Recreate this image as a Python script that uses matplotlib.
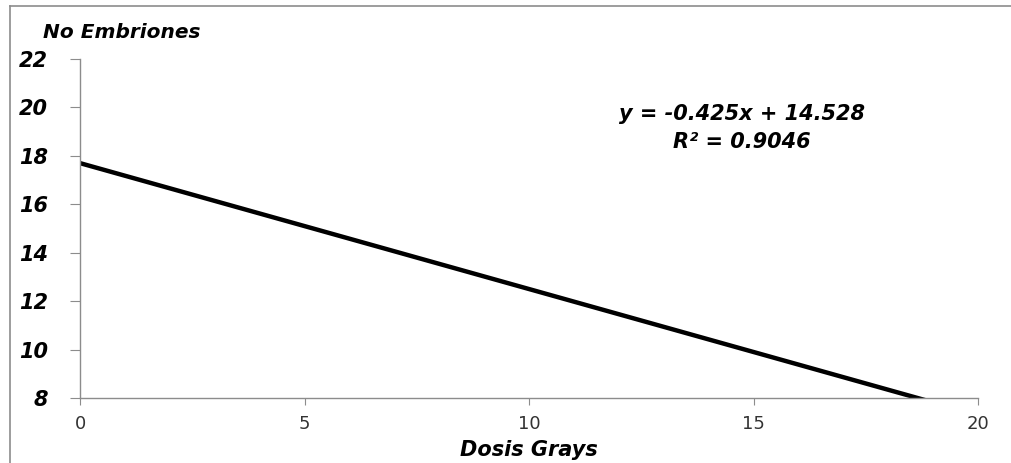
import matplotlib.pyplot as plt
from matplotlib.lines import Line2D

# trend line (clipped at y = 8)
dosis = [0, 20]
embriones = [17.7, 7.3]
xticks = [0, 5, 10, 15, 20]
yticks = [8, 10, 12, 14, 16, 18, 20, 22]
ecuacion = 'y = -0.425x + 14.528'
r2 = 'R² = 0.9046'

plt.rcParams['font.family'] = ['DejaVu Sans']

W, H = 1011, 463
fig = plt.figure(figsize=(W / 100, H / 100), dpi=100)
ax = fig.add_axes([80 / W, 1 - 398 / H, (978 - 80) / W, (398 - 59) / H])

ax.plot(dosis, embriones, color='black', lw=3.2, solid_capstyle='butt')
ax.set_xlim(0, 20)
ax.set_ylim(8, 22)
ax.set_xticks(xticks)
ax.set_yticks(yticks)

for s in ['top', 'right']:
    ax.spines[s].set_visible(False)
for s in ['left', 'bottom']:
    ax.spines[s].set_color('#8c8c8c')
    ax.spines[s].set_linewidth(1.0)

ax.tick_params(axis='y', direction='out', length=7, color='#8c8c8c', pad=16)
ax.tick_params(axis='x', direction='out', length=5, color='#8c8c8c', pad=7,
               labelsize=13, labelcolor='#333333')
for lab in ax.get_yticklabels():
    lab.set_fontsize(15)
    lab.set_fontweight('bold')
    lab.set_fontstyle('italic')

fig.text(43 / W, 1 - 33 / H, 'No Embriones', fontsize=14.5, fontweight='bold',
         fontstyle='italic', va='center', ha='left')
fig.text(529 / W, 1 - 450 / H, 'Dosis Grays', fontsize=15, fontweight='bold',
         fontstyle='italic', va='center', ha='center')

fig.text(742 / W, 1 - 114 / H, ecuacion, fontsize=15, fontweight='bold',
         fontstyle='italic', va='center', ha='center')
fig.text(742 / W, 1 - 142 / H, r2, fontsize=15, fontweight='bold',
         fontstyle='italic', va='center', ha='center')

# outer chart frame (top and left visible)
fig.add_artist(Line2D([10 / W, 10 / W], [0, 1 - 6 / H], transform=fig.transFigure,
                      color='#8c8c8c', lw=1.2))
fig.add_artist(Line2D([10 / W, 1], [1 - 6 / H, 1 - 6 / H], transform=fig.transFigure,
                      color='#8c8c8c', lw=1.2))

fig.savefig('out.png', dpi=100)
